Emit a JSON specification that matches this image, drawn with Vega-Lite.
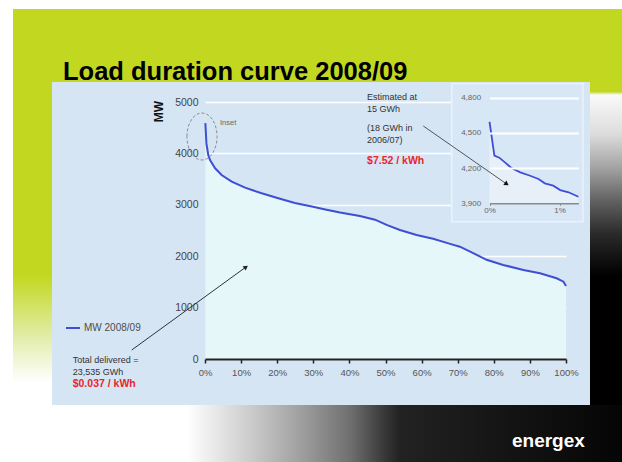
{
  "$schema": "https://vega.github.io/schema/vega-lite/v6.json",
  "background": "#ffffff",
  "padding": {"left": 13, "top": 9, "right": 0, "bottom": 0},
  "autosize": {"type": "pad"},
  "spacing": 0,
  "config": {
    "view": {"stroke": null},
    "font": "Liberation Sans"
  },
  "vconcat": [
    {
      "width": 609,
      "height": 73,
      "view": {"fill": "#c2d820"},
      "data": {"values": [{}]},
      "mark": {"type": "text", "text": "Load duration curve 2008/09", "fontSize": 25.5, "fontWeight": "bold", "color": "#000000", "align": "left", "baseline": "alphabetic", "clip": true},
      "encoding": {
        "x": {"datum": 0.0821, "type": "quantitative", "scale": {"domain": [0, 1], "nice": false, "zero": false}, "axis": null},
        "y": {"datum": 0.0274, "type": "quantitative", "scale": {"domain": [0, 1], "nice": false, "zero": false}, "axis": null}
      }
    },
    {
      "spacing": 0,
      "bounds": "flush",
      "hconcat": [
        {
          "width": 39,
          "height": 323,
          "data": {"values": [{}]},
          "mark": {"type": "rect", "color": {"gradient": "linear", "x1": 0, "y1": 0, "x2": 0, "y2": 1, "stops": [
            {"offset": 0, "color": "#c2d820"},
            {"offset": 0.6, "color": "#c2d820"},
            {"offset": 0.8, "color": "#e4eeb0"},
            {"offset": 0.93, "color": "#ffffff"},
            {"offset": 1, "color": "#ffffff"}
          ]}},
          "encoding": {}
        },
        {
          "width": 538,
          "height": 323,
          "view": {"fill": "#d5e5f4"},
          "layer": [
            {
              "data": {"values": [
                {"share": 0.001, "mw": 4590, "series": "MW 2008/09"},
                {"share": 0.004, "mw": 4190, "series": "MW 2008/09"},
                {"share": 0.009, "mw": 3970, "series": "MW 2008/09"},
                {"share": 0.014, "mw": 3872, "series": "MW 2008/09"},
                {"share": 0.028, "mw": 3710, "series": "MW 2008/09"},
                {"share": 0.046, "mw": 3580, "series": "MW 2008/09"},
                {"share": 0.074, "mw": 3450, "series": "MW 2008/09"},
                {"share": 0.111, "mw": 3333, "series": "MW 2008/09"},
                {"share": 0.157, "mw": 3224, "series": "MW 2008/09"},
                {"share": 0.203, "mw": 3126, "series": "MW 2008/09"},
                {"share": 0.249, "mw": 3035, "series": "MW 2008/09"},
                {"share": 0.296, "mw": 2965, "series": "MW 2008/09"},
                {"share": 0.33, "mw": 2912, "series": "MW 2008/09"},
                {"share": 0.374, "mw": 2850, "series": "MW 2008/09"},
                {"share": 0.429, "mw": 2782, "series": "MW 2008/09"},
                {"share": 0.471, "mw": 2710, "series": "MW 2008/09"},
                {"share": 0.503, "mw": 2610, "series": "MW 2008/09"},
                {"share": 0.54, "mw": 2510, "series": "MW 2008/09"},
                {"share": 0.586, "mw": 2412, "series": "MW 2008/09"},
                {"share": 0.632, "mw": 2340, "series": "MW 2008/09"},
                {"share": 0.679, "mw": 2240, "series": "MW 2008/09"},
                {"share": 0.706, "mw": 2185, "series": "MW 2008/09"},
                {"share": 0.743, "mw": 2060, "series": "MW 2008/09"},
                {"share": 0.78, "mw": 1930, "series": "MW 2008/09"},
                {"share": 0.826, "mw": 1830, "series": "MW 2008/09"},
                {"share": 0.882, "mw": 1732, "series": "MW 2008/09"},
                {"share": 0.928, "mw": 1667, "series": "MW 2008/09"},
                {"share": 0.974, "mw": 1570, "series": "MW 2008/09"},
                {"share": 0.993, "mw": 1504, "series": "MW 2008/09"},
                {"share": 1.0, "mw": 1420, "series": "MW 2008/09"}
              ]},
              "layer": [
                {
                  "mark": {"type": "area", "color": "#e5f7f8"},
                  "encoding": {
                    "x": {"field": "share", "type": "quantitative",
                      "scale": {"domain": [0, 1], "range": [153, 514], "nice": false, "zero": false},
                      "axis": {"orient": "bottom", "offset": -46, "values": [0, 0.1, 0.2, 0.3, 0.4, 0.5, 0.6, 0.7, 0.8, 0.9, 1], "format": ".0%", "grid": false, "domainColor": "#222222", "domainWidth": 2, "tickColor": "#222222", "tickSize": 4, "tickWidth": 1.5, "labelFontSize": 9.5, "labelColor": "#555555", "labelPadding": 4, "labelOverlap": false, "labelFlush": false, "title": null, "zindex": 1}},
                    "y": {"field": "mw", "type": "quantitative",
                      "scale": {"domain": [0, 5000], "range": [277, 20], "nice": false, "zero": false},
                      "axis": {"orient": "left", "offset": -148, "values": [0, 500, 1000, 1500, 2000, 2500, 3000, 3500, 4000, 4500, 5000], "format": "d", "domain": false, "ticks": false, "labelPadding": 2, "labelFontSize": 10.5, "labelColor": "#444444", "labelOverlap": false, "labelFlush": false, "grid": true, "gridColor": "#ffffff", "gridWidth": 1.5, "title": "MW", "titleFontSize": 12, "titleFontWeight": "bold", "titleColor": "#111111", "titleAngle": 270, "titleX": -42, "titleY": 29, "titleAlign": "center", "titleBaseline": "middle"}}
                  }
                },
                {
                  "mark": {"type": "line", "strokeWidth": 2},
                  "encoding": {
                    "x": {"field": "share", "type": "quantitative"},
                    "y": {"field": "mw", "type": "quantitative"},
                    "color": {"field": "series", "type": "nominal", "scale": {"range": ["#3e4fd4"]},
                      "legend": {"orient": "none", "legendX": 52, "legendY": 311, "title": null, "symbolType": "stroke", "symbolSize": 196, "symbolStrokeWidth": 2, "labelFontSize": 10, "labelColor": "#4d4d4d", "padding": 0, "labelOffset": 3}}
                  }
                },
                {
                  "data": {"values": [{}]},
                  "mark": {"type": "point", "shape": "M-0.64,0 A0.64,1 0 1,1 0.64,0 A0.64,1 0 1,1 -0.64,0 Z", "size": 2209, "filled": false, "stroke": "#8c8c8c", "strokeWidth": 1, "strokeDash": [3, 2], "opacity": 1},
                  "encoding": {"x": {"datum": -0.0083}, "y": {"datum": 4329}}
                },
                {
                  "data": {"values": [{}]},
                  "mark": {"type": "text", "text": "Inset", "fontSize": 7.5, "color": "#666666", "align": "left", "baseline": "middle"},
                  "encoding": {"x": {"datum": 0.0416}, "y": {"datum": 4585}}
                },
                {
                  "data": {"values": [{}]},
                  "mark": {"type": "text", "text": "Estimated at", "fontSize": 9, "color": "#333333", "align": "left", "baseline": "middle"},
                  "encoding": {"x": {"datum": 0.449}, "y": {"datum": 5103}}
                },
                {
                  "data": {"values": [{}]},
                  "mark": {"type": "text", "text": "15 GWh", "fontSize": 9, "color": "#333333", "align": "left", "baseline": "middle"},
                  "encoding": {"x": {"datum": 0.449}, "y": {"datum": 4864}}
                },
                {
                  "data": {"values": [{}]},
                  "mark": {"type": "text", "text": "(18 GWh in", "fontSize": 9, "color": "#333333", "align": "left", "baseline": "middle"},
                  "encoding": {"x": {"datum": 0.449}, "y": {"datum": 4488}}
                },
                {
                  "data": {"values": [{}]},
                  "mark": {"type": "text", "text": "2006/07)", "fontSize": 9, "color": "#333333", "align": "left", "baseline": "middle"},
                  "encoding": {"x": {"datum": 0.449}, "y": {"datum": 4261}}
                },
                {
                  "data": {"values": [{}]},
                  "mark": {"type": "text", "text": "$7.52 / kWh", "fontSize": 10.5, "fontWeight": "bold", "color": "#e8262b", "align": "left", "baseline": "middle"},
                  "encoding": {"x": {"datum": 0.449}, "y": {"datum": 3852}}
                },
                {
                  "data": {"values": [{}]},
                  "mark": {"type": "text", "text": "Total delivered =", "fontSize": 9, "color": "#333333", "align": "left", "baseline": "middle"},
                  "encoding": {"x": {"datum": -0.3665}, "y": {"datum": -19}}
                },
                {
                  "data": {"values": [{}]},
                  "mark": {"type": "text", "text": "23,535 GWh", "fontSize": 9, "color": "#333333", "align": "left", "baseline": "middle"},
                  "encoding": {"x": {"datum": -0.3665}, "y": {"datum": -253}}
                },
                {
                  "data": {"values": [{}]},
                  "mark": {"type": "text", "text": "$0.037 / kWh", "fontSize": 10.5, "fontWeight": "bold", "color": "#e8262b", "align": "left", "baseline": "middle"},
                  "encoding": {"x": {"datum": -0.3665}, "y": {"datum": -486}}
                },
                {
                  "data": {"values": [{}]},
                  "mark": {"type": "rule", "color": "#333333", "strokeWidth": 1},
                  "encoding": {"x": {"datum": -0.203}, "y": {"datum": 175}, "x2": {"datum": 0.1136}, "y2": {"datum": 1790}}
                },
                {
                  "data": {"values": [{}]},
                  "mark": {"type": "point", "shape": "triangle-up", "filled": true, "color": "#222222", "size": 28, "angle": 54, "opacity": 1},
                  "encoding": {"x": {"datum": 0.1136}, "y": {"datum": 1790}}
                }
              ]
            },
            {
              "data": {"values": [
                {"share": 0.0, "mw": 4595},
                {"share": 0.0007, "mw": 4306},
                {"share": 0.0014, "mw": 4289},
                {"share": 0.0022, "mw": 4249},
                {"share": 0.0032, "mw": 4198},
                {"share": 0.0044, "mw": 4164},
                {"share": 0.0058, "mw": 4135},
                {"share": 0.007, "mw": 4107},
                {"share": 0.0079, "mw": 4070},
                {"share": 0.0091, "mw": 4050},
                {"share": 0.0101, "mw": 4013},
                {"share": 0.0113, "mw": 3994},
                {"share": 0.0127, "mw": 3956}
              ]},
              "layer": [
                {
                  "data": {"values": [{}]},
                  "mark": {"type": "rect", "fill": "#d8e7f6", "stroke": "#eaf2fb", "strokeWidth": 1.5},
                  "encoding": {
                    "x": {"datum": -0.0054, "type": "quantitative",
                      "scale": {"domain": [0, 0.0127], "range": [437.5, 526.4], "nice": false, "zero": false},
                      "axis": {"orient": "bottom", "offset": -201.7, "values": [0, 0.01], "format": ".0%", "grid": false, "domainColor": "#8a8a8a", "domainWidth": 1.5, "tickColor": "#8a8a8a", "tickSize": 2, "labelFontSize": 8, "labelColor": "#666666", "labelPadding": 1, "labelFlush": false, "title": null, "zindex": 1}},
                    "x2": {"datum": 0.01336},
                    "y": {"datum": 3743, "type": "quantitative",
                      "scale": {"domain": [3900, 4800], "range": [121.3, 15.7], "nice": false, "zero": false},
                      "axis": {"orient": "left", "offset": -430.7, "values": [3900, 4200, 4500, 4800], "format": ",.0f", "domain": false, "ticks": false, "labelPadding": 2, "labelFontSize": 8, "labelColor": "#666666", "labelOverlap": false, "labelFlush": false, "grid": true, "gridColor": "#ffffff", "gridWidth": 2, "gridOpacity": {"condition": {"test": "datum.value == 3900", "value": 0}, "value": 1}, "title": null, "zindex": 1}},
                    "y2": {"datum": 4920}
                  }
                },
                {
                  "mark": {"type": "area", "color": "#e7f0f8"},
                  "encoding": {
                    "x": {"field": "share", "type": "quantitative"},
                    "y": {"field": "mw", "type": "quantitative"},
                    "y2": {"datum": 3900}
                  }
                },
                {
                  "mark": {"type": "line", "color": "#3e4fd4", "strokeWidth": 1.8},
                  "encoding": {
                    "x": {"field": "share", "type": "quantitative"},
                    "y": {"field": "mw", "type": "quantitative"}
                  }
                },
                {
                  "data": {"values": [{}]},
                  "mark": {"type": "rule", "color": "#555555", "strokeWidth": 1},
                  "encoding": {"x": {"datum": -0.00946}, "y": {"datum": 4559}, "x2": {"datum": 0.00246}, "y2": {"datum": 4064}}
                },
                {
                  "data": {"values": [{}]},
                  "mark": {"type": "point", "shape": "triangle-up", "filled": true, "color": "#111111", "size": 28, "angle": 125, "opacity": 1},
                  "encoding": {"x": {"datum": 0.00246}, "y": {"datum": 4064}}
                }
              ]
            }
          ],
          "resolve": {"scale": {"x": "independent", "y": "independent"}, "axis": {"x": "independent", "y": "independent"}}
        },
        {
          "width": 32,
          "height": 323,
          "data": {"values": [{}]},
          "mark": {"type": "rect", "color": {"gradient": "linear", "x1": 0, "y1": 0, "x2": 0, "y2": 1, "stops": [
            {"offset": 0, "color": "#c2d820"},
            {"offset": 0.03, "color": "#c2d820"},
            {"offset": 0.04, "color": "#fafafa"},
            {"offset": 0.16, "color": "#dddddd"},
            {"offset": 0.27, "color": "#a0a0a0"},
            {"offset": 0.37, "color": "#606060"},
            {"offset": 0.47, "color": "#2a2a2a"},
            {"offset": 0.6, "color": "#000000"},
            {"offset": 1, "color": "#000000"}
          ]}},
          "encoding": {}
        }
      ]
    },
    {
      "width": 609,
      "height": 57,
      "data": {"values": [{}]},
      "layer": [
        {
          "mark": {"type": "rect", "color": {"gradient": "linear", "x1": 0, "y1": 0, "x2": 1, "y2": 0, "stops": [
            {"offset": 0, "color": "#ffffff"},
            {"offset": 0.286, "color": "#ffffff"},
            {"offset": 0.389, "color": "#cccccc"},
            {"offset": 0.471, "color": "#a0a0a0"},
            {"offset": 0.553, "color": "#707070"},
            {"offset": 0.608, "color": "#3a3a3a"},
            {"offset": 0.635, "color": "#222222"},
            {"offset": 1, "color": "#050505"}
          ]}},
          "encoding": {}
        },
        {
          "mark": {"type": "text", "text": "energex", "fontSize": 19, "fontWeight": "bold", "color": "#ffffff", "align": "right", "baseline": "alphabetic"},
          "encoding": {
            "x": {"datum": 0.939, "type": "quantitative", "scale": {"domain": [0, 1], "nice": false, "zero": false}, "axis": null},
            "y": {"datum": 0.263, "type": "quantitative", "scale": {"domain": [0, 1], "nice": false, "zero": false}, "axis": null}
          }
        }
      ]
    }
  ]
}
